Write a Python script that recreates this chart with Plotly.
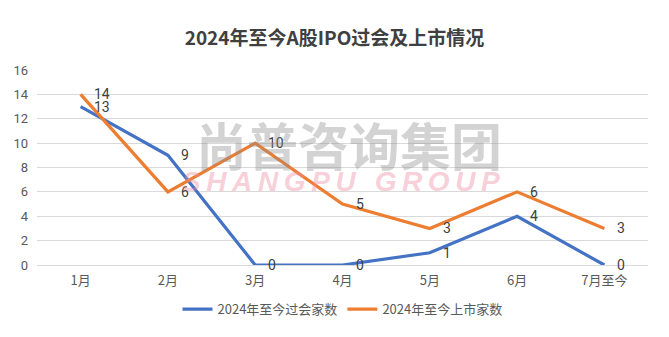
import plotly.graph_objects as go

months = ["1月", "2月", "3月", "4月", "5月", "6月", "7月至今"]
approved = [13, 9, 0, 0, 1, 4, 0]
listed = [14, 6, 10, 5, 3, 6, 3]
y_ticks = [0, 2, 4, 6, 8, 10, 12, 14, 16]

FONT = "Noto Sans CJK SC, Microsoft YaHei, sans-serif"
NUMFONT = "Roboto, Arial, sans-serif"
BLUE = "#4472C4"
ORANGE = "#ED7D31"

fig = go.Figure()

for name, values, color in [("2024年至今过会家数", approved, BLUE),
                            ("2024年至今上市家数", listed, ORANGE)]:
    fig.add_trace(go.Scatter(
        x=months, y=values, name=name, mode="lines",
        line=dict(color=color, width=3.2),
    ))
    # value labels to the right of each point
    for m, v in zip(months, values):
        fig.add_annotation(
            x=m, y=v, text=str(v), showarrow=False,
            xanchor="left", yanchor="middle", xshift=11,
            font=dict(family=NUMFONT, size=14, color="#404040"),
        )

# brand watermark
fig.add_annotation(
    text="<b>尚普咨询集团</b>", xref="paper", yref="paper", x=0.51, y=0.62,
    showarrow=False,
    font=dict(family=FONT, size=51, color="rgba(140,140,140,0.38)"),
)
thin = "\u2009"
fig.add_annotation(
    text="<b><i>" + thin.join("SHANGPU GROUP") + "</i></b>", xref="paper", yref="paper",
    x=0.497, y=0.43, showarrow=False,
    font=dict(family="Liberation Sans, Arial, sans-serif", size=28,
              color="rgba(236,140,162,0.42)"),
)

fig.update_layout(
    width=669, height=337,
    margin=dict(l=37, r=21, t=70, b=72),
    paper_bgcolor="white", plot_bgcolor="white",
    title=dict(text="<b>2024年至今A股IPO过会及上市情况</b>", x=0.5, xanchor="center",
               y=0.885, yanchor="middle",
               font=dict(family=FONT, size=19, color="#404040")),
    showlegend=True,
    legend=dict(orientation="h", x=0.5, xanchor="center", y=-0.15, yanchor="top",
                font=dict(family=FONT, size=13, color="#595959"),
                itemwidth=30, tracegroupgap=0),
    xaxis=dict(type="category", range=[-0.5, 6.5], showgrid=False, showline=False,
               ticks="", ticklabelstandoff=6,
               tickfont=dict(family=FONT, size=13, color="#595959")),
    yaxis=dict(range=[0, 16], tickvals=y_ticks, showgrid=True, gridcolor="#D9D9D9",
               gridwidth=1, zeroline=True, zerolinecolor="#D9D9D9", zerolinewidth=1,
               showline=False, ticks="", ticklabelstandoff=8,
               tickfont=dict(family=NUMFONT, size=13, color="#595959")),
)

fig.write_html("out.html")
